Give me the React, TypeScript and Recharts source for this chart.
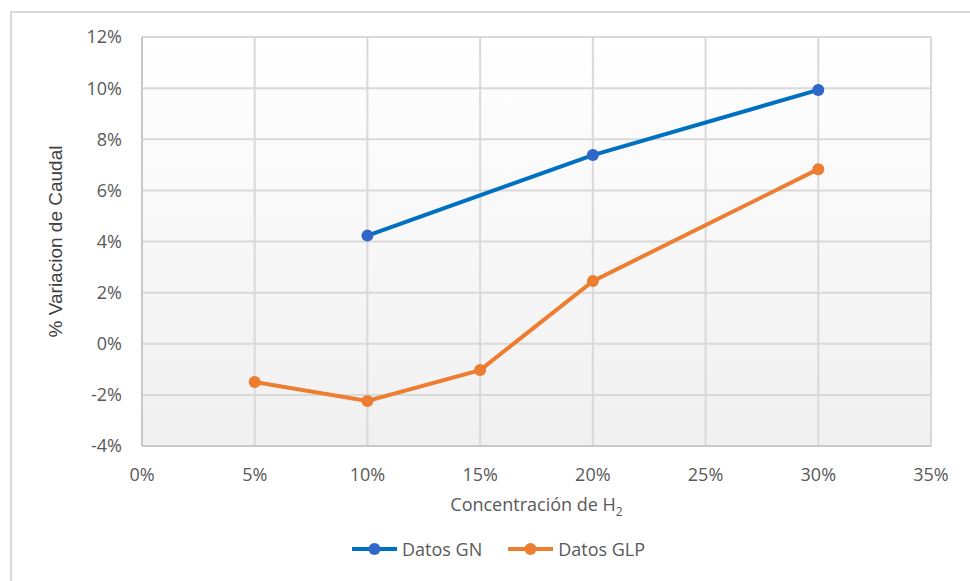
import { LineChart, Line, XAxis, YAxis, CartesianGrid, Label } from 'recharts'

// concentración de H2 (fracción) y variación de caudal (fracción)
const concentracion = [0.05, 0.1, 0.15, 0.2, 0.3]
const datosGN: (number | null)[] = [null, 0.0423, null, 0.0738, 0.0993]
const datosGLP = [-0.015, -0.0224, -0.0103, 0.0245, 0.0683]

const xTicks = [0, 0.05, 0.1, 0.15, 0.2, 0.25, 0.3, 0.35]
const yTicks = [-0.04, -0.02, 0, 0.02, 0.04, 0.06, 0.08, 0.1, 0.12]

const series = [
  { key: 'gn', name: 'Datos GN', stroke: '#0070C0', dot: '#2F66C8' },
  { key: 'glp', name: 'Datos GLP', stroke: '#ED7D31', dot: '#ED7D31' },
]

const chartData = concentracion.map((x, i) => ({
  x,
  gn: datosGN[i],
  glp: datosGLP[i],
}))

const FONT = '"Open Sans", sans-serif'
const TEXT = '#595959'

const pct = (v: number) => `${Math.round(v * 100)}%`

function XTitle({ viewBox }: any) {
  const cx = viewBox.x + viewBox.width / 2
  const y = viewBox.y + viewBox.height - 5
  return (
    <text x={cx} y={y} textAnchor="middle" fill={TEXT} fontSize={18} fontFamily={FONT}>
      <tspan>Concentración de H</tspan>
      <tspan fontSize={12} dy={5}>2</tspan>
    </text>
  )
}

function LegendBox() {
  return (
    <div
      style={{
        position: 'absolute',
        left: 352,
        top: 537,
        display: 'flex',
        alignItems: 'center',
        gap: 26,
        fontFamily: FONT,
        fontSize: 18,
        color: TEXT,
        lineHeight: '24px',
      }}
    >
      {series.map((s) => (
        <div key={s.key} style={{ display: 'flex', alignItems: 'center', gap: 5 }}>
          <svg width={45} height={14}>
            <line x1={0} x2={45} y1={7} y2={7} stroke={s.stroke} strokeWidth={4} />
            <circle cx={22.5} cy={7} r={6} fill={s.dot} />
          </svg>
          <span>{s.name}</span>
        </div>
      ))}
    </div>
  )
}

export default function App() {
  return (
    <div style={{ position: 'absolute', left: 0, top: 0, width: 970, height: 581, background: '#fff' }}>
      <div
        style={{
          position: 'absolute',
          left: 10,
          top: 11,
          width: 970,
          height: 580,
          border: '2px solid #d9d9d9',
        }}
      />
      <LineChart
        width={970}
        height={581}
        data={chartData}
        margin={{ top: 37, right: 39, bottom: 65, left: 0 }}
        style={{ position: 'absolute', left: 0, top: 0 }}
      >
        <defs>
          <linearGradient id="plotBg" x1="0" y1="0" x2="0" y2="1">
            <stop offset="0%" stopColor="#ffffff" />
            <stop offset="100%" stopColor="#f0f0f0" />
          </linearGradient>
        </defs>
        <CartesianGrid fill="url(#plotBg)" stroke="#d9d9d9" strokeWidth={2} />
        <XAxis
          dataKey="x"
          type="number"
          domain={[0, 0.35]}
          ticks={xTicks}
          tickFormatter={pct}
          height={70}
          tickSize={0}
          tickMargin={22}
          axisLine={{ stroke: '#c8c8c8', strokeWidth: 2 }}
          tickLine={false}
          tick={{ fill: TEXT, fontSize: 18, fontFamily: FONT }}
          allowDataOverflow
        >
          <Label content={<XTitle />} />
        </XAxis>
        <YAxis
          type="number"
          domain={[-0.04, 0.12]}
          ticks={yTicks}
          tickFormatter={pct}
          width={142}
          tickSize={0}
          tickMargin={20}
          axisLine={{ stroke: '#c8c8c8', strokeWidth: 2 }}
          tickLine={false}
          tick={{ fill: TEXT, fontSize: 18, fontFamily: FONT }}
          allowDataOverflow
        >
          <Label
            value="% Variacion de Caudal"
            angle={-90}
            position="center"
            dx={-16}
            fill="#404040"
            fontSize={19}
            fontFamily='"Liberation Sans", Arial, sans-serif'
          />
        </YAxis>
        {series.map((s) => (
          <Line
            key={s.key}
            type="linear"
            dataKey={s.key}
            name={s.name}
            stroke={s.stroke}
            strokeWidth={4}
            dot={{ r: 6, fill: s.dot, stroke: 'none' }}
            activeDot={false}
            connectNulls
            isAnimationActive={false}
          />
        ))}
      </LineChart>
      <LegendBox />
    </div>
  )
}
